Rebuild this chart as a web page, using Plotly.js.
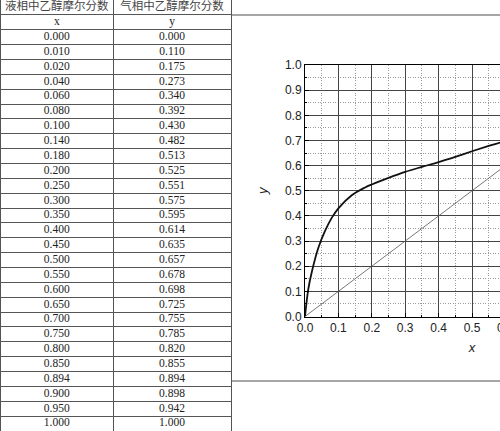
<!DOCTYPE html>
<html>
<head>
<meta charset="utf-8">
<script src="https://cdn.plot.ly/plotly-3.0.1.min.js"></script>
<style>
html,body{margin:0;padding:0;overflow:hidden;background:#fff;}
#chart{width:700px;height:431px;}
</style>
</head>
<body>
<div id="chart"></div>
<script>
// Data
const headerLabels = ['液相中乙醇摩尔分数', '气相中乙醇摩尔分数'];
const columnSymbols = ['x', 'y'];
const xLiquid = [0.000,0.010,0.020,0.040,0.060,0.080,0.100,0.140,0.180,0.200,0.250,0.300,0.350,0.400,0.450,0.500,0.550,0.600,0.650,0.700,0.750,0.800,0.850,0.894,0.900,0.950,1.000];
const yVapor  = [0.000,0.110,0.175,0.273,0.340,0.392,0.430,0.482,0.513,0.525,0.551,0.575,0.595,0.614,0.635,0.657,0.678,0.698,0.725,0.755,0.785,0.820,0.855,0.894,0.898,0.942,1.000];
const axisTicks = [0,0.1,0.2,0.3,0.4,0.5,0.6,0.7,0.8,0.9,1.0];

// Layout helpers (pixels -> paper fractions)
const W = 700, H = 431;
const px = v => v / W;
const py = v => 1 - v / H;
const fmt = v => v.toFixed(3);

// Table geometry (layout only): column edges in pixels
const colEdges = [0.5, 113, 231];
const colCenters = [(colEdges[0] + colEdges[1]) / 2, (colEdges[1] + colEdges[2]) / 2];

// Table built from the data arrays: rows = header, symbol row, data rows
const colTexts = [
  [headerLabels[0], columnSymbols[0]].concat(xLiquid.map(fmt)),
  [headerLabels[1], columnSymbols[1]].concat(yVapor.map(fmt))
];
const nRows = colTexts[0].length;
const serif = '"Liberation Serif", "Times New Roman", serif';
const cjk = '"Noto Sans CJK SC", "Liberation Serif", serif';

const tableTraces = colTexts.map((col, c) => ({
  type: 'scatter', mode: 'text',
  x: col.map(() => colCenters[c]),
  y: col.map((_, r) => r + 0.5),
  text: col,
  textposition: 'middle center',
  textfont: {
    family: col.map((_, r) => r === 0 ? cjk : serif),
    size: 11.5,
    color: col.map((_, r) => r === 0 ? '#444' : '#222')
  },
  xaxis: 'x2', yaxis: 'y2', showlegend: false, hoverinfo: 'skip', cliponaxis: false
}));

const curve = {
  type: 'scatter', mode: 'lines',
  x: xLiquid, y: yVapor,
  line: {color: '#111', width: 1.8, shape: 'spline', smoothing: 1},
  xaxis: 'x', yaxis: 'y', showlegend: false, hoverinfo: 'skip'
};
const diagonal = {
  type: 'scatter', mode: 'lines',
  x: xLiquid, y: xLiquid,
  line: {color: '#555', width: 0.8},
  xaxis: 'x', yaxis: 'y', showlegend: false, hoverinfo: 'skip'
};

const axisCommon = {
  range: [0, 1],
  tickvals: axisTicks,
  ticktext: axisTicks.map(v => v.toFixed(1)),
  ticks: 'inside', ticklen: 4, tickwidth: 1, tickcolor: '#000',
  showline: true, linecolor: '#000', linewidth: 1, mirror: true,
  showgrid: true, gridcolor: '#444', gridwidth: 1,
  zeroline: false,
  tickfont: {family: '"Liberation Sans", Arial, sans-serif', size: 12, color: '#222'},
  minor: {dtick: 0.05, tick0: 0, showgrid: true, gridcolor: '#999', griddash: '1px,1.5px', gridwidth: 1, ticks: 'inside', ticklen: 2, tickcolor: '#000'}
};

const rowLines = Array.from({length: nRows + 1}, (_, i) => i);

const layout = {
  width: W, height: H,
  margin: {l: 0, r: 0, t: 0, b: 0},
  paper_bgcolor: '#fff', plot_bgcolor: '#fff',
  showlegend: false,
  xaxis: Object.assign({}, axisCommon, {
    domain: [px(305), px(639)],
    anchor: 'y',
    title: {text: '<i>x</i>', font: {family: '"Liberation Sans", Arial, sans-serif', size: 13, color: '#222'}, standoff: 8}
  }),
  yaxis: Object.assign({}, axisCommon, {
    domain: [py(316.5), py(65)],
    anchor: 'x',
    title: {text: '<i>y</i>', font: {family: '"Liberation Sans", Arial, sans-serif', size: 13, color: '#222'}, standoff: 14}
  }),
  xaxis2: {
    domain: [px(colEdges[0]), px(colEdges[2])], range: [colEdges[0], colEdges[2]], anchor: 'y2',
    tickvals: colEdges, showticklabels: false, ticks: '',
    showgrid: true, gridcolor: '#555', gridwidth: 1,
    showline: true, mirror: true, linecolor: '#555', linewidth: 1, zeroline: false
  },
  yaxis2: {
    domain: [0, 1], range: [nRows, 0], anchor: 'x2',
    tickvals: rowLines, showticklabels: false, ticks: '',
    showgrid: true, gridcolor: '#555', gridwidth: 1,
    showline: true, mirror: true, linecolor: '#555', linewidth: 1, zeroline: false
  },
  shapes: [
    {type: 'line', xref: 'paper', yref: 'paper', x0: px(232), x1: px(700), y0: py(15), y1: py(15), line: {color: '#888', width: 1.5}},
    {type: 'line', xref: 'paper', yref: 'paper', x0: px(232), x1: px(700), y0: py(381), y1: py(381), line: {color: '#888', width: 1.5}}
  ]
};

Plotly.newPlot('chart', tableTraces.concat([diagonal, curve]), layout, {staticPlot: true, displayModeBar: false});
</script>
</body>
</html>
